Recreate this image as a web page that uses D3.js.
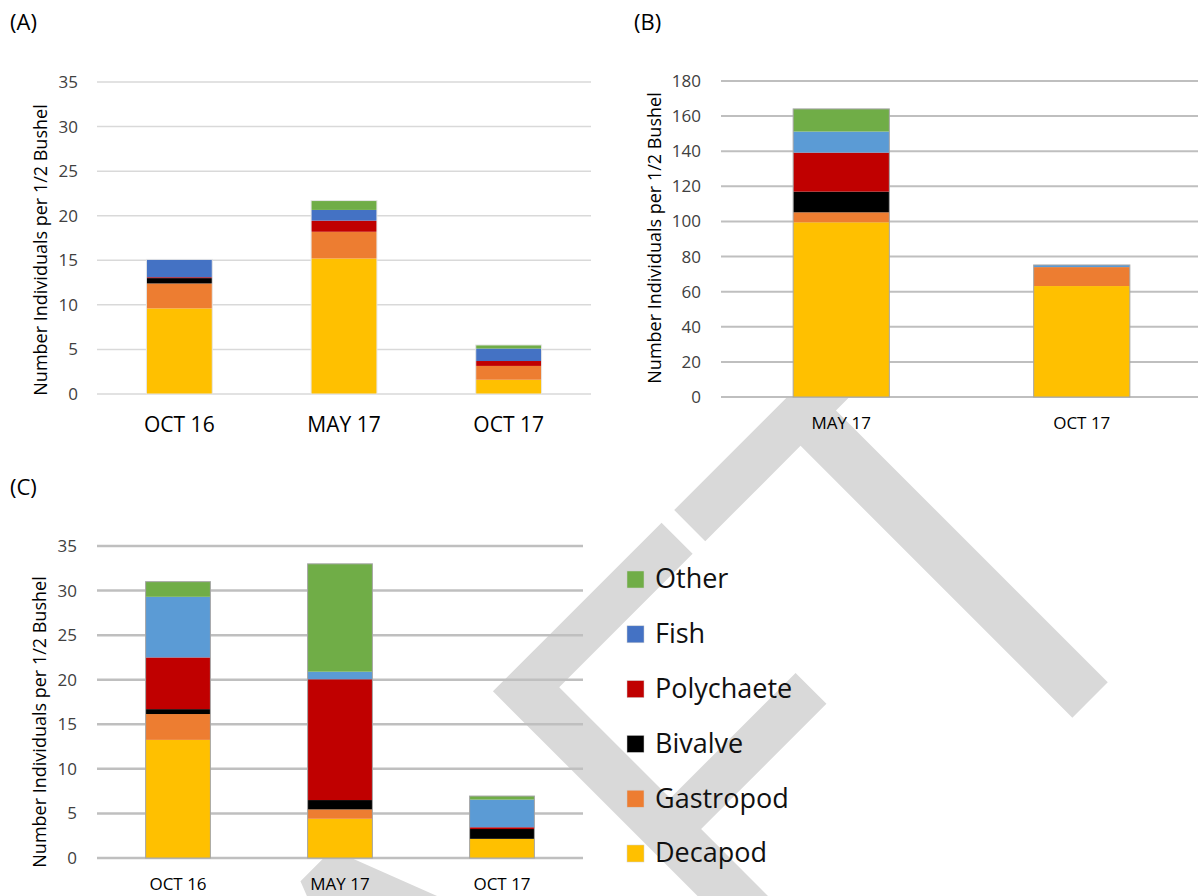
<!DOCTYPE html>
<html><head><meta charset="utf-8">
<script src="https://cdn.jsdelivr.net/npm/d3@7"></script>
<style>html,body{margin:0;padding:0;background:#fff;}svg{display:block;}</style>
</head><body>
<svg id="c" width="1198" height="896"></svg>
<script>
const series = ["Decapod","Gastropod","Bivalve","Polychaete","Fish","Other"];
const legendOrder = ["Other","Fish","Polychaete","Bivalve","Gastropod","Decapod"];
const colorsDark = {Decapod:"#FFC000",Gastropod:"#ED7D31",Bivalve:"#000000",Polychaete:"#C00000",Fish:"#4472C4",Other:"#70AD47"};
const colorsLight = {Decapod:"#FFC000",Gastropod:"#ED7D31",Bivalve:"#000000",Polychaete:"#C00000",Fish:"#5B9BD5",Other:"#70AD47"};

// Panel A
const catsA = ["OCT 16","MAY 17","OCT 17"];
const decapodA = [9.6, 15.2, 1.6];
const gastropodA = [2.8, 3.0, 1.55];
const bivalveA = [0.6, 0, 0];
const polychaeteA = [0.1, 1.25, 0.55];
const fishA = [2.0, 1.2, 1.4];
const otherA = [0, 1.05, 0.4];
const ticksA = [0,5,10,15,20,25,30,35];

// Panel B
const catsB = ["MAY 17","OCT 17"];
const decapodB = [99.5, 63.2];
const gastropodB = [5.7, 10.8];
const bivalveB = [11.8, 0];
const polychaeteB = [22.2, 0];
const fishB = [12, 1.2];
const otherB = [12.9, 0];
const ticksB = [0,20,40,60,80,100,120,140,160,180];

// Panel C
const catsC = ["OCT 16","MAY 17","OCT 17"];
const decapodC = [13.25, 4.4, 2.15];
const gastropodC = [2.9, 1.05, 0];
const bivalveC = [0.55, 1.05, 1.1];
const polychaeteC = [5.8, 13.55, 0.2];
const fishC = [6.8, 0.85, 3.1];
const otherC = [1.7, 12.1, 0.4];
const ticksC = [0,5,10,15,20,25,30,35];

const yTitle = "Number Individuals per 1/2 Bushel";
const FONT = "'Open Sans', 'Noto Sans', sans-serif";

const svg = d3.select("#c");

// watermark (behind the charts)
svg.append("text").attr("transform","translate(1207,583) rotate(-45)")
  .attr("text-anchor","end").attr("font-family",FONT).attr("font-size",600)
  .attr("fill","#d9d9d9").text("DRAFT");
// panel B picture is opaque over its plot area
svg.append("rect").attr("x",620).attr("y",0).attr("width",578).attr("height",396).attr("fill","#fff");

function build(cats, arrs){
  return cats.map((c,i)=>{ const o={cat:c}; series.forEach((s,j)=>o[s]=arrs[j][i]); return o; });
}

function panel(cfg){
  const g = svg.append("g");
  const x = d3.scaleBand().domain(cfg.cats).range(cfg.xr).paddingInner(0.6).paddingOuter(0.3);
  const y = d3.scaleLinear().domain([0, d3.max(cfg.ticks)]).range(cfg.yr);
  g.append("g").selectAll("line").data(cfg.ticks).join("line")
    .attr("x1",cfg.xr[0]).attr("x2",cfg.gridEnd)
    .attr("y1",d=>y(d)).attr("y2",d=>y(d))
    .attr("stroke",cfg.gridColor).attr("stroke-width",cfg.gridW);
  const ya = d3.axisLeft(y).tickValues(cfg.ticks).tickSize(0).tickPadding(0);
  const yg = g.append("g").attr("transform",`translate(${cfg.tickX},0)`).call(ya);
  yg.select(".domain").remove();
  yg.selectAll("text").attr("font-family",FONT).attr("font-size",cfg.tickFS).attr("fill","#404040");
  const data = build(cfg.cats, cfg.arrs);
  const stack = d3.stack().keys(series)(data);
  g.append("g").selectAll("g").data(stack).join("g")
    .attr("fill",d=>cfg.colors[d.key])
    .selectAll("rect").data(d=>d).join("rect")
    .attr("x",d=>x(d.data.cat)).attr("width",x.bandwidth())
    .attr("y",d=>y(d[1])).attr("height",d=>Math.max(0,y(d[0])-y(d[1])));
  g.append("g").selectAll("rect").data(data).join("rect")
    .attr("x",d=>x(d.cat)).attr("width",x.bandwidth())
    .attr("y",d=>y(d3.sum(series,s=>d[s]))).attr("height",d=>y(0)-y(d3.sum(series,s=>d[s])))
    .attr("fill","none").attr("stroke",cfg.outline).attr("stroke-width",1);
  const xa = d3.axisBottom(x).tickSize(0).tickPadding(0);
  const xg = g.append("g").attr("transform",`translate(0,${cfg.xLabY})`).call(xa);
  xg.select(".domain").remove();
  xg.selectAll("text").attr("font-family",FONT).attr("font-size",cfg.xFS).attr("fill","#000").attr("dy","0");
  g.append("text").attr("transform",`translate(${cfg.titleX},${cfg.titleY}) rotate(-90)`)
    .attr("text-anchor","middle").attr("font-family",FONT).attr("font-size",cfg.titleFS)
    .attr("fill","#000").text(yTitle);
  g.append("text").attr("x",cfg.lab[0]).attr("y",cfg.lab[1]).attr("font-family",FONT)
    .attr("font-size",22).attr("fill","#000").text(cfg.label);
}

panel({cats:catsA, arrs:[decapodA,gastropodA,bivalveA,polychaeteA,fishA,otherA], ticks:ticksA,
  xr:[97,591], gridEnd:591, yr:[394,82], gridColor:"#d9d9d9", gridW:1.5, tickX:78, tickFS:17,
  colors:colorsDark, outline:"#e6e6e6", xLabY:432, xFS:21, titleX:47, titleY:250, titleFS:18,
  label:"(A)", lab:[10,30]});
panel({cats:catsB, arrs:[decapodB,gastropodB,bivalveB,polychaeteB,fishB,otherB], ticks:ticksB,
  xr:[721,1202], gridEnd:1198, yr:[397,81], gridColor:"#bfbfbf", gridW:2, tickX:701, tickFS:17,
  colors:colorsLight, outline:"#a6a6a6", xLabY:429, xFS:17, titleX:661, titleY:238, titleFS:18,
  label:"(B)", lab:[634,30]});
panel({cats:catsC, arrs:[decapodC,gastropodC,bivalveC,polychaeteC,fishC,otherC], ticks:ticksC,
  xr:[97,583], gridEnd:583, yr:[858,546], gridColor:"#bfbfbf", gridW:2.5, tickX:77, tickFS:17,
  colors:colorsLight, outline:"#a6a6a6", xLabY:890, xFS:17, titleX:46, titleY:722, titleFS:18,
  label:"(C)", lab:[10,495]});

// legend
const legY = d3.scalePoint().domain(legendOrder).range([579,853]);
const lg = svg.append("g");
const li = lg.selectAll("g").data(legendOrder).join("g").attr("transform",d=>`translate(627,${legY(d)})`);
li.append("rect").attr("x",0).attr("y",-8).attr("width",17).attr("height",17)
  .attr("fill",d=>colorsDark[d]).attr("stroke","#d0d0d0").attr("stroke-width",0.5);
li.append("text").attr("x",28).attr("y",0).attr("dy","0.35em").attr("font-family",FONT)
  .attr("font-size",27).attr("fill","#111").text(d=>d);
</script>
</body></html>
